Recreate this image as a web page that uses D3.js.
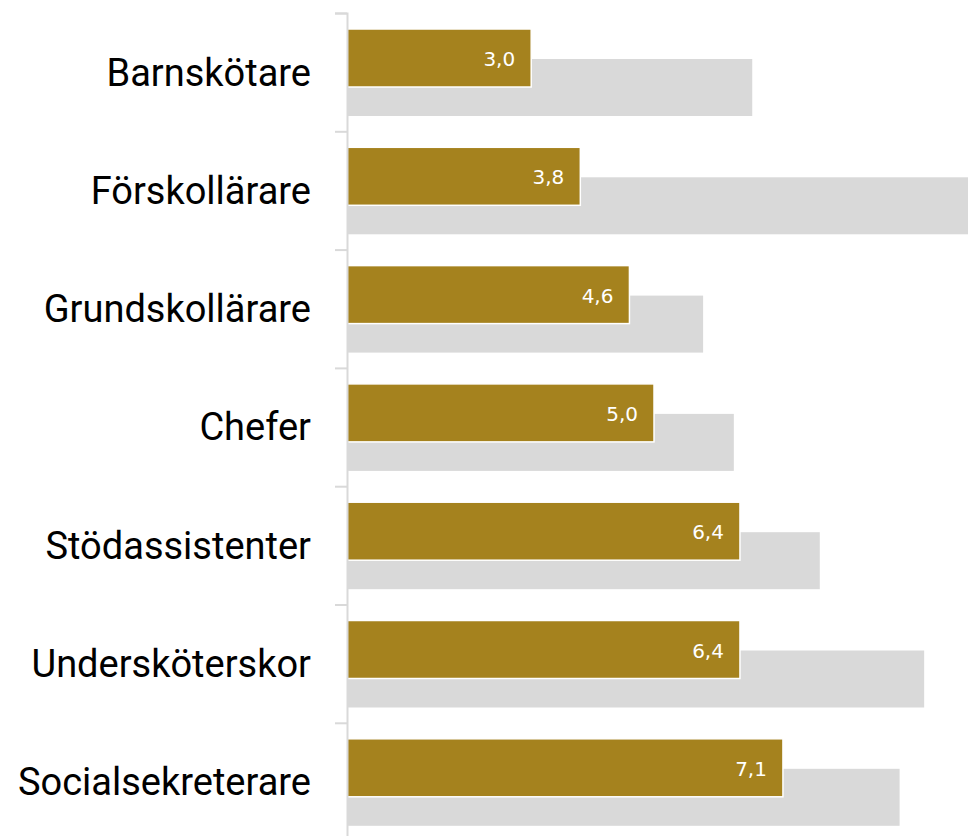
<!DOCTYPE html>
<html>
<head>
<meta charset="utf-8">
<script src="https://cdn.jsdelivr.net/npm/d3@7"></script>
<style>
  body { margin: 0; background: #fff; }
</style>
</head>
<body>
<div id="chart"></div>
<script>
// data
var categories = ["Barnskötare", "Förskollärare", "Grundskollärare", "Chefer", "Stödassistenter", "Undersköterskor", "Socialsekreterare"];
var goldValues = [3.0, 3.8, 4.6, 5.0, 6.4, 6.4, 7.1];
var greyValues = [6.6, 10.4, 5.8, 6.3, 7.7, 9.4, 9.0];

var width = 968, height = 836;
var x0 = 347, yTop = 13, band = 118.3;

var svg = d3.select("#chart")
  .append("svg")
  .attr("width", width)
  .attr("height", height);

var xScale = d3.scaleLinear()
  .domain([0, 1])
  .range([x0, x0 + 61.4]);

var yScale = d3.scaleBand()
  .domain(categories)
  .range([yTop, yTop + band * categories.length])
  .padding(0);

var idx = d3.scaleLinear()
  .domain([0, categories.length])
  .range([yTop, yTop + band * categories.length]);

// grey bars (behind)
svg.selectAll("rect.grey")
  .data(categories)
  .enter()
  .append("rect")
  .attr("class", "grey")
  .attr("x", xScale(0))
  .attr("y", function (d) { return yScale(d) + 46; })
  .attr("width", function (d, i) { return xScale(greyValues[i]) - xScale(0); })
  .attr("height", 57)
  .style("fill", "#d9d9d9");

// gold bars
svg.selectAll("rect.gold")
  .data(categories)
  .enter()
  .append("rect")
  .attr("class", "gold")
  .attr("x", xScale(0))
  .attr("y", function (d) { return yScale(d) + 16; })
  .attr("width", function (d, i) { return xScale(goldValues[i]) - xScale(0); })
  .attr("height", 58)
  .style("fill", "#a5821e")
  .style("stroke", "#fff")
  .style("stroke-width", 1.5);

// value labels
svg.selectAll("text.val")
  .data(categories)
  .enter()
  .append("text")
  .attr("class", "val")
  .attr("x", function (d, i) { return xScale(goldValues[i]) - 16; })
  .attr("y", function (d) { return yScale(d) + 53; })
  .attr("text-anchor", "end")
  .attr("font-family", "DejaVu Sans, sans-serif")
  .attr("font-size", "20px")
  .attr("fill", "#fff")
  .text(function (d, i) { return goldValues[i].toFixed(1).replace(".", ","); });

// axis with ticks at band boundaries
var axis = svg.append("g")
  .attr("transform", "translate(" + x0 + ",0)")
  .call(d3.axisLeft(idx).tickValues(d3.range(0, categories.length + 1)).tickSize(12).tickFormat(""));
axis.selectAll("path, line")
  .attr("stroke", "#d9d9d9")
  .attr("stroke-width", 2);

// category labels
svg.selectAll("text.cat")
  .data(categories)
  .enter()
  .append("text")
  .attr("class", "cat")
  .attr("x", 311)
  .attr("y", function (d) { return yScale(d) + 72.5; })
  .attr("text-anchor", "end")
  .attr("font-family", "Roboto, sans-serif")
  .attr("font-size", "38px")
  .attr("fill", "#000")
  .text(function (d) { return d; });
</script>
</body>
</html>
